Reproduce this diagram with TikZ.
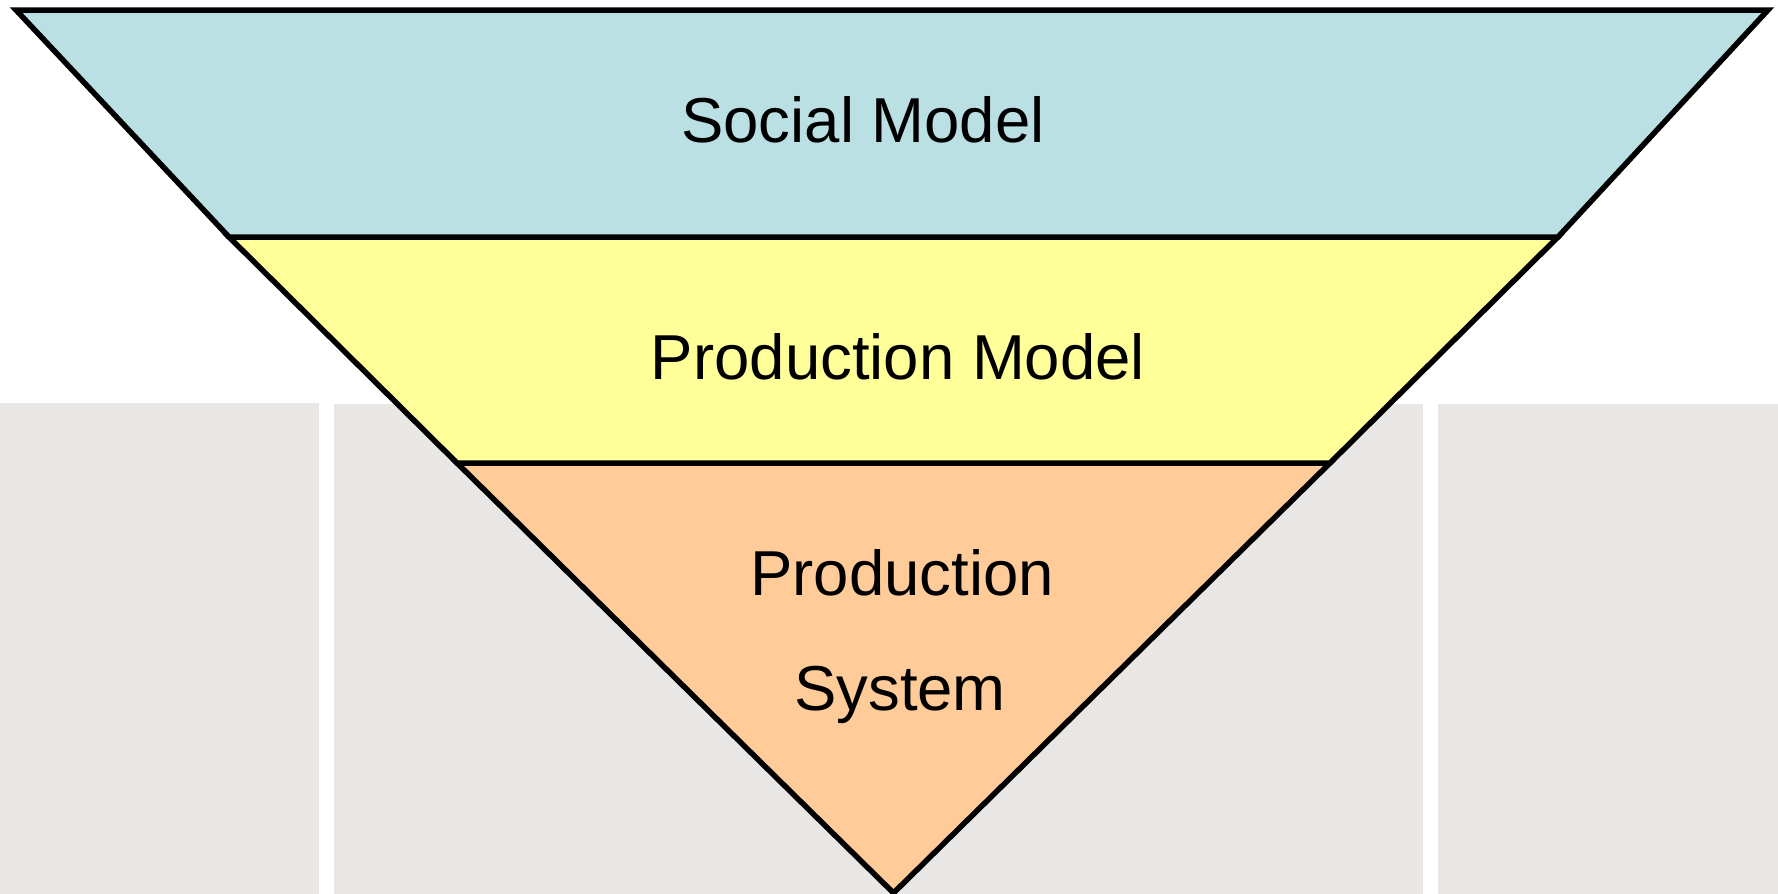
\documentclass[tikz,border=0pt]{standalone}
\usepackage{fontspec}
\setmainfont{Liberation Sans}
\definecolor{bggray}{HTML}{E8E7E5}
\definecolor{socialc}{HTML}{BBE0E3}
\definecolor{prodmc}{HTML}{FFFF99}
\definecolor{prodsc}{HTML}{FFCC99}
\begin{document}
\begin{tikzpicture}[x=1pt,y=-1pt,
  layer/.style={draw=black,line width=5.5pt,line join=miter},
  lbl/.style={font=\fontsize{63.5}{75}\selectfont,inner sep=0pt,anchor=base}]
\useasboundingbox (0,0) rectangle (1778,894);
\fill[white] (0,0) rectangle (1778,894);
% background gray panels
\fill[bggray] (0,403) rectangle (319,894);
\fill[bggray] (334,404) rectangle (1423,894);
\fill[bggray] (1438,404) rectangle (1778,894);
% coordinates
\coordinate (tl) at (16,10);
\coordinate (tr) at (1768,10);
\coordinate (ml) at (229,237);
\coordinate (mr) at (1558,237);
\coordinate (bl) at (457,463);
\coordinate (br) at (1330,463);
\coordinate (apex) at (893.5,893);
% layers
\draw[layer,fill=prodsc] (bl) -- (br) -- (apex) -- cycle;
\draw[layer,fill=prodmc] (ml) -- (mr) -- (br) -- (bl) -- cycle;
\draw[layer,fill=socialc] (tl) -- (tr) -- (mr) -- (ml) -- cycle;
% labels
\node[lbl] (social) at (863,142) {Social Model};
\node[lbl] (pmodel) at (898,379) {Production Model};
\node[lbl] (psys1) at (902,595) {Production};
\node[lbl] (psys2) at (900,710) {System};
\end{tikzpicture}
\end{document}
